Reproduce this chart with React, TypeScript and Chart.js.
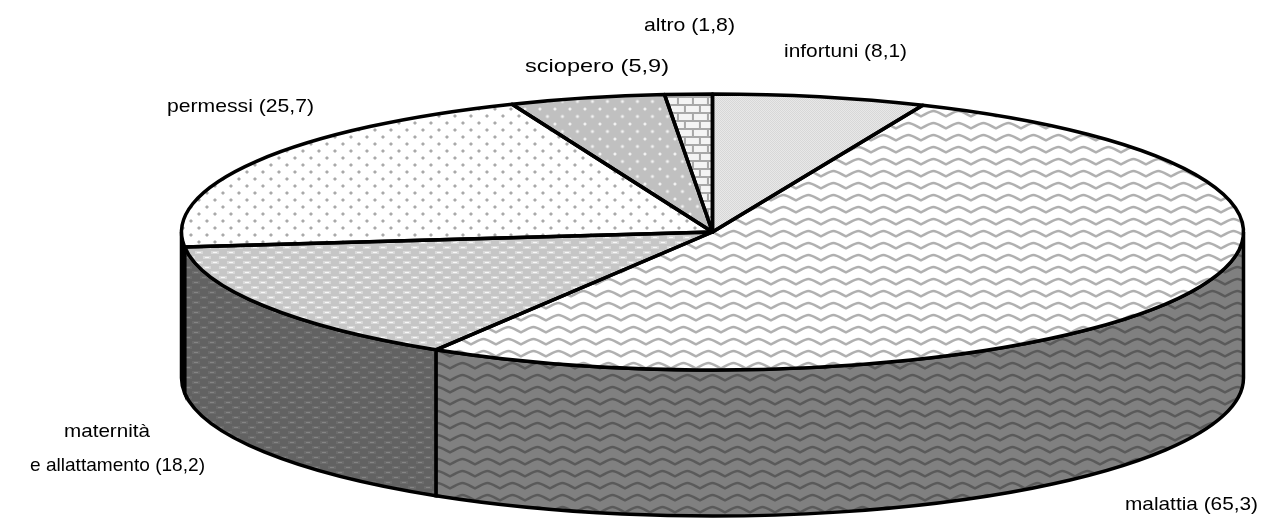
import React, { useEffect, useRef } from "react";
import { Chart, registerables } from "chart.js";

Chart.register(...registerables);

const categories = ["infortuni", "malattia", "maternità\ne allattamento", "permessi", "sciopero", "altro"];
const values = [8.1, 65.3, 18.2, 25.7, 5.9, 1.8];
const valueLabels = ["8,1", "65,3", "18,2", "25,7", "5,9", "1,8"];

// layout only (not data): one box per text line
const labelBoxes = [
  [{ x0: 784, x1: 907, y: 57 }],
  [{ x0: 1125, x1: 1258, y: 510 }],
  [{ x0: 64, x1: 150, y: 437 }, { x0: 30, x1: 205, y: 471 }],
  [{ x0: 167, x1: 314, y: 112 }],
  [{ x0: 525, x1: 669, y: 72 }],
  [{ x0: 644, x1: 735, y: 31 }],
];
const CX_SCALE = 531 / 138;
const DEPTH = 146;
const FONT_PX = 19;
const LINE_W = 3.5;

function tile(w: number, h: number, paint: (c: CanvasRenderingContext2D) => void) {
  const cv = document.createElement("canvas");
  cv.width = w;
  cv.height = h;
  const c = cv.getContext("2d")!;
  paint(c);
  return cv;
}

function dither(w: number, h: number, a: string, b: string) {
  return tile(w, h, (c) => {
    for (let y = 0; y < h; y++) for (let x = 0; x < w; x++) {
      c.fillStyle = (x + y) % 2 ? a : b;
      c.fillRect(x, y, 1, 1);
    }
  });
}

function waveTile(bg: string, line: string) {
  return tile(25, 12, (c) => {
    c.fillStyle = bg;
    c.fillRect(0, 0, 25, 12);
    c.strokeStyle = line;
    c.lineWidth = 2.6;
    for (const oy of [-12, 0, 12]) {
      c.beginPath();
      c.moveTo(-2, 9 + oy);
      c.bezierCurveTo(1, 9 + oy, 8, 3 + oy, 12.5, 3 + oy);
      c.bezierCurveTo(17, 3 + oy, 24, 9 + oy, 27, 9 + oy);
      c.stroke();
    }
  });
}

function dotTile(bg: string, dot: string, core: string, w: number, h: number) {
  return tile(w, h, (c) => {
    c.fillStyle = bg;
    c.fillRect(0, 0, w, h);
    const put = (x: number, y: number) => {
      c.fillStyle = dot;
      c.fillRect(x - 2, y - 1, 4, 2);
      c.fillRect(x - 1, y - 2, 2, 4);
      c.fillStyle = core;
      c.fillRect(x - 1, y - 1, 2, 2);
    };
    put(4, 4);
    put(4 + w / 2, 4 + h / 2);
  });
}

function dashTile(bg: string, dash: string, core: string) {
  return tile(16, 10, (c) => {
    c.fillStyle = bg;
    c.fillRect(0, 0, 16, 10);
    const put = (x: number, y: number) => {
      c.fillStyle = dash;
      c.fillRect(x - 1, y - 1, 8, 3);
      c.fillStyle = core;
      c.fillRect(x + 1, y, 4, 1);
    };
    put(1, 2);
    put(9, 7);
  });
}

function brickTile() {
  return tile(30, 16, (c) => {
    c.fillStyle = "#f4f4f4";
    c.fillRect(0, 0, 30, 16);
    c.fillStyle = "#a8a8a8";
    c.fillRect(0, 0, 30, 2);
    c.fillRect(0, 8, 30, 2);
    c.fillRect(6, 2, 2, 6);
    c.fillRect(21, 2, 2, 6);
    c.fillRect(13, 10, 2, 6);
    c.fillRect(28, 10, 2, 6);
  });
}

export default function App() {
  const ref = useRef<HTMLCanvasElement>(null);

  useEffect(() => {
    document.body.style.margin = "0";
    const canvas = ref.current!;
    const ctx = canvas.getContext("2d")!;
    const mk = (cv: HTMLCanvasElement) => {
      const p = ctx.createPattern(cv, "repeat")!;
      p.setTransform(new DOMMatrix().scale(1 / CX_SCALE, 1));
      return p;
    };
    const flat = (cv: HTMLCanvasElement) => ctx.createPattern(cv, "repeat")!;

    const topTiles = [
      dither(2, 2, "#d6d6d6", "#eaeaea"),
      waveTile("#ffffff", "#b0b0b0"),
      dashTile("#c6c6c6", "#dadada", "#f8f8f8"),
      dotTile("#ffffff", "#d4d4d4", "#a8a8a8", 16, 14),
      dotTile("#c0c0c0", "#d4d4d4", "#f4f4f4", 15, 15),
      brickTile(),
    ];
    const darkDash = flat(dashTile("#626262", "#6c6c6c", "#848484"));
    const wallPatterns: (CanvasPattern | null)[] = [
      null,
      flat(waveTile("#808080", "#5a5a5a")),
      darkDash,
      darkDash,
      null,
      null,
    ];

    const threeD = {
      id: "threeD",
      beforeDatasetsDraw(chart: any) {
        const c = chart.ctx as CanvasRenderingContext2D;
        const arcs = chart.getDatasetMeta(0).data;
        arcs.forEach((a: any, i: number) => {
          const lo = Math.max(a.startAngle, 0);
          const hi = Math.min(a.endAngle, Math.PI);
          if (hi <= lo || !wallPatterns[i]) return;
          const rx = a.outerRadius * CX_SCALE;
          const ry = a.outerRadius;
          c.save();
          c.beginPath();
          c.ellipse(a.x, a.y, rx, ry, 0, lo, hi);
          c.ellipse(a.x, a.y + DEPTH, rx, ry, 0, hi, lo, true);
          c.closePath();
          c.fillStyle = wallPatterns[i]!;
          c.fill();
          c.strokeStyle = "#000";
          c.lineWidth = LINE_W;
          c.stroke();
          c.restore();
        });
        const a0 = arcs[0];
        c.save();
        c.translate(a0.x, a0.y);
        c.scale(CX_SCALE, 1);
        c.translate(-a0.x, -a0.y);
      },
      afterDatasetsDraw(chart: any) {
        const c = chart.ctx as CanvasRenderingContext2D;
        c.restore();
        const arcs = chart.getDatasetMeta(0).data;
        arcs.forEach((a: any) => {
          c.save();
          c.beginPath();
          c.moveTo(a.x, a.y);
          c.ellipse(a.x, a.y, a.outerRadius * CX_SCALE, a.outerRadius, 0, a.startAngle, a.endAngle);
          c.closePath();
          c.strokeStyle = "#000";
          c.lineWidth = LINE_W;
          c.lineJoin = "round";
          c.stroke();
          c.restore();
        });
        c.save();
        c.fillStyle = "#000";
        c.font = `${FONT_PX}px "Liberation Sans", Arial, sans-serif`;
        c.textAlign = "left";
        c.textBaseline = "alphabetic";
        categories.forEach((name, i) => {
          const parts = name.split("\n");
          parts.forEach((p, k) => {
            const line = k === parts.length - 1 ? `${p} (${valueLabels[i]})` : p;
            const box = labelBoxes[i][k];
            const natural = c.measureText(line).width;
            c.save();
            c.translate(box.x0, box.y);
            c.scale((box.x1 - box.x0) / natural, 1);
            c.fillText(line, 0, 0);
            c.restore();
          });
        });
        c.restore();
      },
    };

    const chart = new Chart(canvas, {
      type: "pie",
      data: {
        labels: categories,
        datasets: [{ data: values, backgroundColor: topTiles.map(mk), borderWidth: 0, hoverOffset: 0 }],
      },
      options: {
        responsive: false,
        animation: false,
        rotation: 0,
        layout: { padding: { left: 160, right: 0, top: 94, bottom: 150 } },
        plugins: { legend: { display: false }, tooltip: { enabled: false } },
      },
      plugins: [threeD],
    } as any);
    return () => chart.destroy();
  }, []);

  return <canvas ref={ref} width={1265} height={520} style={{ display: "block" }} />;
}
